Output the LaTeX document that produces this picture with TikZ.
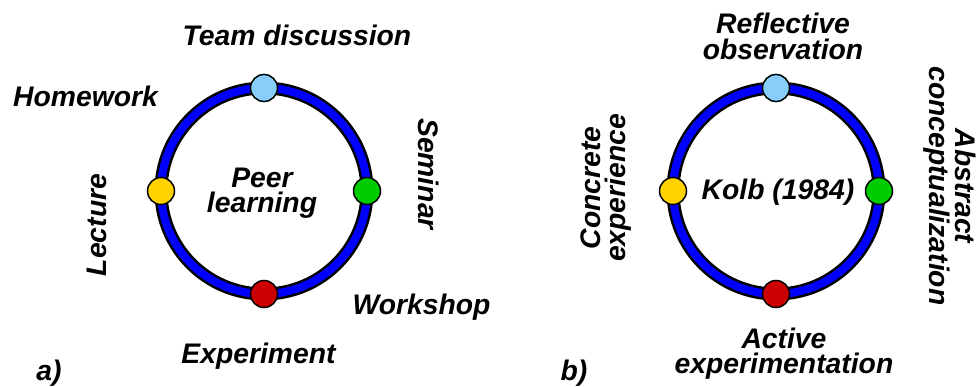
\documentclass[tikz,border=0pt]{standalone}
\usepackage{fontspec}
\setmainfont{Liberation Sans}
\begin{document}
\begin{tikzpicture}[x=1pt,y=-1pt,
  lbl/.style={font=\fontsize{28.3}{25.5}\selectfont\bfseries\itshape, inner sep=0pt, align=center},
  ringback/.style={draw=black, line width=13pt},
  ringfront/.style={draw=ringblue, line width=8pt},
  dot/.style={circle, draw=black, line width=1.5pt, minimum size=27pt, inner sep=0pt}]
\definecolor{ringblue}{RGB}{0,0,255}
\definecolor{dotsky}{RGB}{135,206,250}
\definecolor{dotgold}{RGB}{255,210,0}
\definecolor{dotgreen}{RGB}{0,204,0}
\definecolor{dotred}{RGB}{204,0,0}
\useasboundingbox (0,0) rectangle (980,387);

% ---------- panel a: peer learning cycle ----------
\draw[ringback] (264,191) circle (103);
\draw[ringfront] (264,191) circle (103);
\node[dot, fill=dotsky]   (aT) at (264,88)  {};
\node[dot, fill=dotgold]  (aL) at (161,191) {};
\node[dot, fill=dotgreen] (aR) at (367,191) {};
\node[dot, fill=dotred]   (aB) at (264,294) {};

\node[lbl] (peer) at (262,193) {Peer\\learning};
\node[lbl, anchor=base] (team) at (297,46) {Team discussion};
\node[lbl, anchor=base] (home) at (85.5,107) {Homework};
\node[lbl, anchor=base] (work) at (421.5,315) {Workshop};
\node[lbl, anchor=base] (expt) at (258.5,363) {Experiment};
\node[lbl, anchor=base, rotate=90]  (lect) at (106,225) {Lecture};
\node[lbl, anchor=base, rotate=-90] (semi) at (418,174) {Seminar};
\node[lbl, anchor=base] (tagA) at (49,380) {a)};

% ---------- panel b: Kolb cycle ----------
\draw[ringback] (776,191) circle (103);
\draw[ringfront] (776,191) circle (103);
\node[dot, fill=dotsky]   (bT) at (776,88)  {};
\node[dot, fill=dotgold]  (bL) at (673,191) {};
\node[dot, fill=dotgreen] (bR) at (879,191) {};
\node[dot, fill=dotred]   (bB) at (776,294) {};

\node[lbl, anchor=base] (kolb) at (778,200) {Kolb (1984)};
\node[lbl] (refl) at (783,36.5) {Reflective\\observation};
\node[lbl] (actv) at (784,353.5) {Active\\experimentation};
\node[lbl, rotate=90]  (conc) at (606,188) {Concrete\\experience};
\node[lbl, rotate=-90] (abst) at (950,186) {Abstract\\conceptualization};
\node[lbl, anchor=base] (tagB) at (574,380) {b)};
\end{tikzpicture}
\end{document}
